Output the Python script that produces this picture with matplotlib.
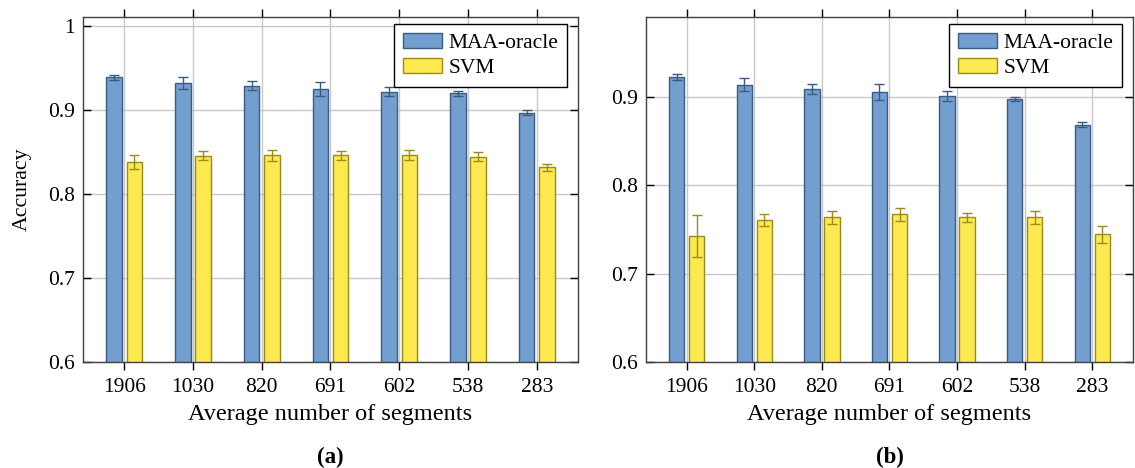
"""
Accuracy vs. average number of segments, MAA-oracle vs SVM (panels a and b)
"""

import numpy as np
import matplotlib
matplotlib.use("Agg")
import matplotlib.pyplot as plt

# -----------------------------------------
# DATA
# -----------------------------------------

SEGMENTS = ["1906", "1030", "820", "691", "602", "538", "283"]

MAA_A = [0.939, 0.9325, 0.929, 0.925, 0.922, 0.920, 0.897]
MAA_A_ERR = [0.0028, 0.0073, 0.0054, 0.0087, 0.0052, 0.0030, 0.0032]
SVM_A = [0.8385, 0.8456, 0.8464, 0.8464, 0.8464, 0.8448, 0.8317]
SVM_A_ERR = [0.0081, 0.0052, 0.0065, 0.0052, 0.0058, 0.0050, 0.0038]

MAA_B = [0.922, 0.9136, 0.909, 0.905, 0.9008, 0.8974, 0.8683]
MAA_B_ERR = [0.0030, 0.0074, 0.0055, 0.0089, 0.0053, 0.0026, 0.0030]
SVM_B = [0.7426, 0.760, 0.7634, 0.7668, 0.7634, 0.7634, 0.7442]
SVM_B_ERR = [0.0236, 0.0068, 0.0075, 0.0074, 0.0055, 0.0070, 0.0100]

# -----------------------------------------
# STYLE
# -----------------------------------------

BLUE = "#729fcf"
BLUE_EDGE = "#3b5b80"
YELLOW = "#fce94f"
YELLOW_EDGE = "#9a8c1c"
SPINE = "#404040"

plt.rcParams["font.family"] = ["Liberation Serif", "DejaVu Serif"]
plt.rcParams["font.size"] = 15.5


def draw_panel(ax, maa, maa_err, svm, svm_err, ylim, yticks, tag):
    x = np.arange(len(SEGMENTS))
    off, w = 0.148, 0.226

    ax.bar(x - off, maa, w, color=BLUE, edgecolor=BLUE_EDGE,
           linewidth=1, label="MAA-oracle", zorder=2)
    ax.bar(x + off, svm, w, color=YELLOW, edgecolor=YELLOW_EDGE,
           linewidth=1, label="SVM", zorder=2)
    ax.errorbar(x - off, maa, yerr=maa_err, fmt="none", ecolor=BLUE_EDGE,
                elinewidth=1, capsize=3.5, capthick=1, zorder=3)
    ax.errorbar(x + off, svm, yerr=svm_err, fmt="none", ecolor=YELLOW_EDGE,
                elinewidth=1, capsize=3.5, capthick=1, zorder=3)

    ax.set_xlim(-0.6, len(SEGMENTS) - 1 + 0.6)
    ax.set_ylim(*ylim)
    ax.set_xticks(x)
    ax.set_xticklabels(SEGMENTS)
    ax.set_yticks(yticks)
    ax.set_yticklabels([("%g" % t) for t in yticks])

    ax.grid(True, color="#c8c8c8", linewidth=1, zorder=0)
    ax.set_axisbelow(True)

    ax.tick_params(axis="x", direction="out", length=6, width=1,
                   top=True, bottom=True, color="black", pad=5.8)
    ax.tick_params(axis="y", direction="in", length=6, width=1,
                   left=True, right=True, color="black", pad=6)
    for s in ax.spines.values():
        s.set_color(SPINE)
        s.set_linewidth(1)

    ax.set_xlabel("Average number of segments", fontsize=17.5, labelpad=4.5)

    leg = ax.legend(loc="upper right", bbox_to_anchor=(0.978, 0.979),
                    borderaxespad=0, fancybox=False, edgecolor="black",
                    framealpha=1, handlelength=1.8, handleheight=0.65,
                    handletextpad=0.3, labelspacing=0.25, borderpad=0.42)
    leg.get_frame().set_linewidth(1)
    leg.set_zorder(5)

    ax.text(0.5, -0.276, tag, transform=ax.transAxes, ha="center",
            va="center", fontweight="bold", fontsize=16.5)


fig = plt.figure(figsize=(11.35, 4.68), dpi=100)
ax_a = fig.add_axes([0.0731, 0.2265, 0.4361, 0.7372])
ax_b = fig.add_axes([0.5692, 0.2265, 0.4290, 0.7372])

draw_panel(ax_a, MAA_A, MAA_A_ERR, SVM_A, SVM_A_ERR,
           (0.6, 1.011), [0.6, 0.7, 0.8, 0.9, 1.0], "(a)")
draw_panel(ax_b, MAA_B, MAA_B_ERR, SVM_B, SVM_B_ERR,
           (0.6, 0.990), [0.6, 0.7, 0.8, 0.9], "(b)")

ax_a.set_ylabel("Accuracy", fontsize=15.7)
ax_a.yaxis.set_label_coords(-0.103, 0.5)

fig.savefig("out.png", dpi=100)
